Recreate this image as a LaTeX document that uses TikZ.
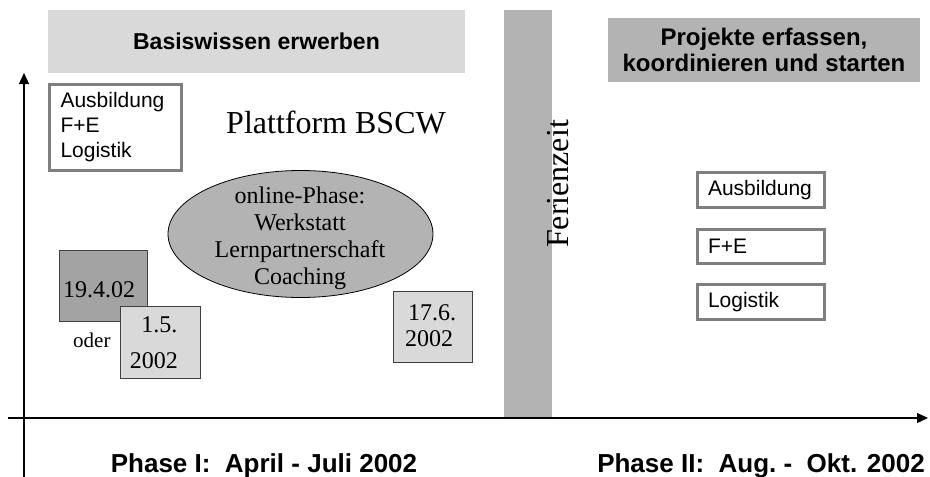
\documentclass[tikz,border=0pt]{standalone}
\usepackage{fontspec}
\setmainfont{Liberation Serif}
\setsansfont{Liberation Sans}
\usetikzlibrary{arrows.meta,shapes.geometric}
\definecolor{lightg}{HTML}{D9D9D9}
\definecolor{midg}{HTML}{B3B3B3}
\definecolor{darkg}{HTML}{A3A3A3}
\definecolor{frameg}{HTML}{7F7F7F}
\definecolor{edgeg}{HTML}{404040}
\tikzset{
  banner/.style={fill=#1, draw=none, inner sep=0pt, align=center,
    font=\sffamily\bfseries\fontsize{23}{26}\selectfont},
  listbox/.style={draw=frameg, line width=3pt, fill=white, inner xsep=11pt, inner ysep=0pt,
    align=left, font=\sffamily\fontsize{21}{25}\selectfont},
  datebox/.style={fill=#1, draw=edgeg, line width=0.9pt, inner sep=0pt},
  serif24/.style={font=\rmfamily\fontsize{24}{27}\selectfont},
  datetext/.style={font=\rmfamily\fontsize{24}{27}\selectfont, inner sep=0pt},
  phaselabel/.style={font=\sffamily\bfseries\fontsize{26}{30}\selectfont, anchor=base},
  axis/.style={line width=1.2pt, -{Triangle[length=11pt,width=10pt]}}
}
\begin{document}
\begin{tikzpicture}[x=1pt,y=-1pt]
\useasboundingbox (0,0) rectangle (930,477);

% banners
\node[banner=lightg, minimum width=417pt, minimum height=63pt] (b1) at (256.5,41.5) {Basiswissen erwerben};
\node[banner=midg, minimum width=312pt, minimum height=64pt, font=\sffamily\bfseries\fontsize{24}{26}\selectfont] (b2) at (764,50) {Projekte erfassen,\\koordinieren und starten};

% holiday bar
\node[fill=midg, draw=none, minimum width=48pt, minimum height=408pt, inner sep=0pt] (bar) at (528,214) {};
\node[rotate=90, anchor=base, font=\rmfamily\fontsize{32}{34}\selectfont, inner sep=0pt] (ferien) at (568,184) {Ferienzeit};

% left list box
\node[listbox, text width=110pt, minimum height=86pt] (lbox) at (115.5,127.5) {Ausbildung\\F+E\\Logistik};

% platform title
\node[anchor=base, font=\rmfamily\fontsize{32}{34}\selectfont, inner sep=0pt] (platt) at (336,133) {Plattform BSCW};

% ellipse
\node[ellipse, fill=midg, draw=black, line width=0.8pt, minimum width=265pt, minimum height=127pt, inner sep=0pt] (online) at (300.5,234) {};
\node[align=center, serif24, inner sep=0pt] (onlinetext) at (300,238) {online-Phase:\\Werkstatt\\Lernpartnerschaft\\Coaching};

% date boxes
\node[datebox=darkg, minimum width=88pt, minimum height=71pt] (d1) at (103,285.5) {};
\node[datetext, anchor=base west] (d1t) at (63,297) {19.4.02};
\node[datebox=lightg, minimum width=80pt, minimum height=72pt] (d2) at (160,342) {};
\node[datetext, anchor=base east] (d2a) at (177.5,332) {1.5.};
\node[datetext, anchor=base east] (d2b) at (178,368) {2002};
\node[datebox=lightg, minimum width=79pt, minimum height=71pt] (d3) at (432.5,326.5) {};
\node[datetext, anchor=base] (d3a) at (432,320) {17.6.};
\node[datetext, anchor=base] (d3b) at (429,346) {2002};
\node[font=\rmfamily\fontsize{21}{24}\selectfont, inner sep=0pt, anchor=base west] (oder) at (73,347) {oder};

% right list boxes
\node[listbox, text width=105pt, minimum height=35pt] (r1) at (760.5,190) {Ausbildung};
\node[listbox, text width=105pt, minimum height=34pt] (r2) at (760.5,246.5) {F+E};
\node[listbox, text width=105pt, minimum height=35pt] (r3) at (760.5,302) {Logistik};

% axes
\coordinate (yb) at (24,477);
\coordinate (yt) at (24,73);
\coordinate (xl) at (8,418);
\coordinate (xr) at (928,418);
\draw[axis] (yb) -- (yt);
\draw[axis] (xl) -- (xr);

% phase labels
\node[phaselabel] (p1) at (264,472) {Phase I:\ \ April - Juli 2002};
\node[phaselabel] (p2) at (761,472) {Phase II:\ \ Aug.\ -\ \ Okt. 2002};
\end{tikzpicture}
\end{document}
